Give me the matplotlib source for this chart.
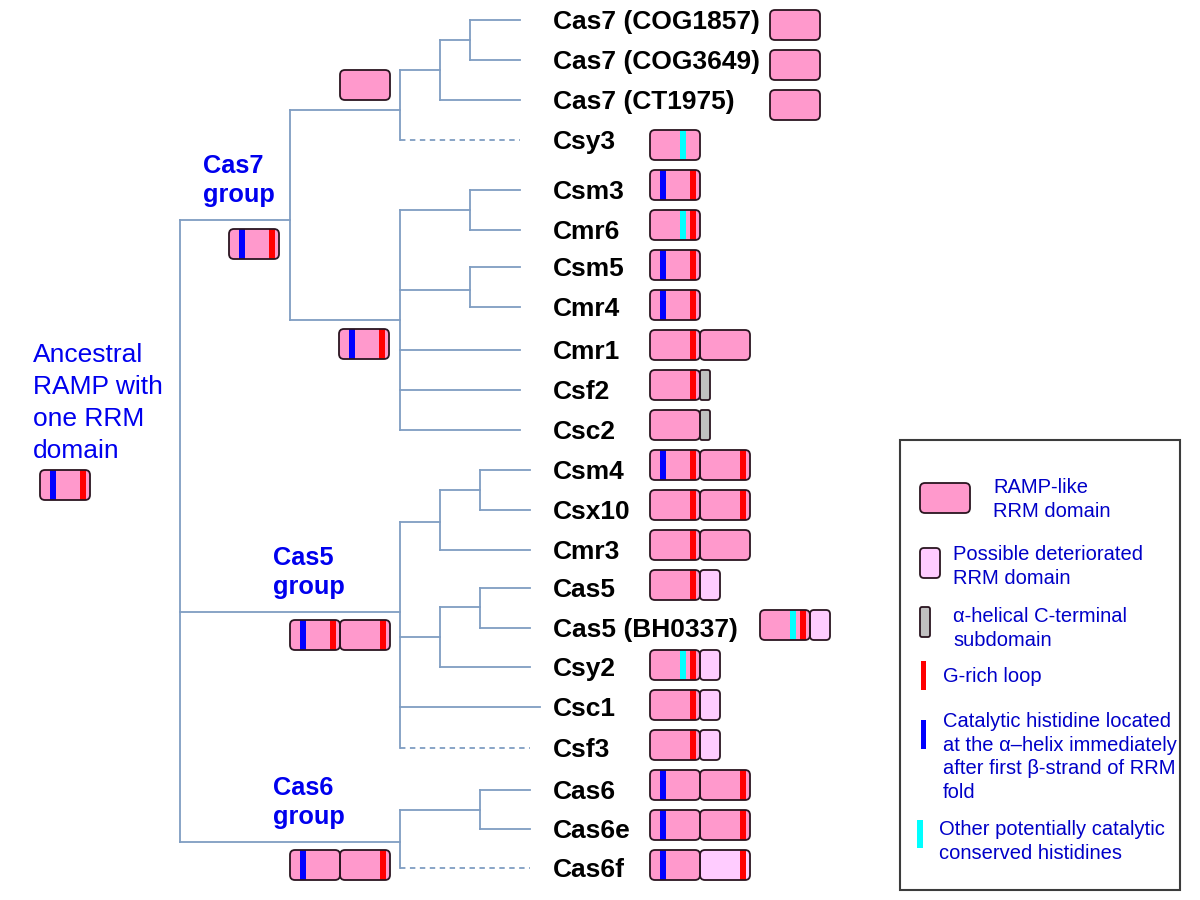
import matplotlib
matplotlib.use("Agg")
import matplotlib.pyplot as plt
from matplotlib.patches import FancyBboxPatch, Rectangle

plt.rcParams['font.family'] = ['Liberation Sans', 'DejaVu Sans']

# leaves of the tree, top to bottom
leaf_names = ['Cas7 (COG1857)', 'Cas7 (COG3649)', 'Cas7 (CT1975)', 'Csy3',
              'Csm3', 'Cmr6', 'Csm5', 'Cmr4', 'Cmr1', 'Csf2', 'Csc2',
              'Csm4', 'Csx10', 'Cmr3', 'Cas5', 'Cas5 (BH0337)', 'Csy2',
              'Csc1', 'Csf3', 'Cas6', 'Cas6e', 'Cas6f']
# domain code: R = RRM, d = deteriorated (short), D = deteriorated (full), H = helical
# letters after ':' are marks: b = catalytic His, c = other His, r = G-rich loop
leaf_domains = [['R'], ['R'], ['R'], ['R:c'],
                ['R:br'], ['R:cr'], ['R:br'], ['R:br'], ['R:r', 'R'], ['R:r', 'H'], ['R', 'H'],
                ['R:br', 'R:r'], ['R:r', 'R:r'], ['R:r', 'R'], ['R:r', 'd'], ['R:cr', 'd'], ['R:cr', 'd'],
                ['R:r', 'd'], ['R:r', 'd'], ['R:b', 'R:r'], ['R:b', 'R:r'], ['R:b', 'D:r']]
dashed_leaves = ['Csy3', 'Csf3', 'Cas6f']

group_names = [['Cas7', 'group'], ['Cas5', 'group'], ['Cas6', 'group']]
group_domains = [['R:br'], ['R:br', 'R:r'], ['R:b', 'R:r']]
inner_domains = [['R'], ['R:br']]
ancestor_text = ['Ancestral', 'RAMP with', 'one RRM', 'domain']
ancestor_domains = ['R:br']

legend_texts = [['RAMP-like', 'RRM domain'],
                ['Possible deteriorated', 'RRM domain'],
                ['\u03b1-helical C-terminal', 'subdomain'],
                ['G-rich loop'],
                ['Catalytic histidine located', 'at the \u03b1\u2013helix immediately',
                 'after first \u03b2-strand of RRM', 'fold'],
                ['Other potentially catalytic', 'conserved histidines']]

# layout (pixels)
leaf_y = [20, 60, 100, 140, 190, 230, 267, 307, 350, 390, 430,
          470, 510, 550, 588, 628, 667, 707, 748, 790, 829, 868]
leaf_tip = [520] * 11 + [530] * 6 + [540, 530, 530, 530, 530]
box_x = [770, 770, 770] + [650] * 12 + [760] + [650] * 6

PINK = '#ff99cc'
LIGHT = '#ffccff'
GREY = '#c0c0c0'
MARK = {'b': ('#0000ff', 10), 'c': ('#00ffff', 30), 'r': ('#ff0000', 40)}
WIDTH = {'R': 50, 'D': 50, 'd': 20, 'H': 10}
ROUND = {'R': 5, 'D': 5, 'd': 4, 'H': 2}
FILL = {'R': PINK, 'D': LIGHT, 'd': LIGHT, 'H': GREY}
EDGE = '#2a1520'
TREE = '#7f9dc2'
BLUE_TXT = '#0000ee'
NAVY_TXT = '#0000c8'

fig = plt.figure(figsize=(12, 9), dpi=100)
ax = fig.add_axes([0, 0, 1, 1])
ax.set_xlim(0, 1200)
ax.set_ylim(900, 0)
ax.axis('off')


def draw_domains(x, y, codes, h=30):
    for code in codes:
        kind, _, marks = code.partition(':')
        w = WIDTH[kind]
        style = 'round,pad=0,rounding_size=%g' % ROUND[kind]
        body = FancyBboxPatch((x, y), w, h, boxstyle=style,
                              facecolor=FILL[kind], edgecolor='none', zorder=3)
        ax.add_patch(body)
        for m in marks:
            col, off = MARK[m]
            s = Rectangle((x + off, y - 1), 6, h + 2, facecolor=col, edgecolor='none', zorder=4)
            s.set_clip_path(body)
            ax.add_patch(s)
        ax.add_patch(FancyBboxPatch((x, y), w, h, boxstyle=style,
                                    facecolor='none', edgecolor=EDGE, lw=1.3, zorder=5))
        x += w


# tree nodes: (x, attach y, children)
n_cog = (470, 40, [0, 1])
n_cas7a = (440, 70, [n_cog, 2])
n_cas7up = (400, 110, [n_cas7a, 3])
n_csm3 = (470, 210, [4, 5])
n_csm5 = (470, 290, [6, 7])
n_cas7low = (400, 320, [n_csm3, n_csm5, 8, 9, 10])
n_cas7 = (290, 220, [n_cas7up, n_cas7low])
n_csm4 = (480, 490, [11, 12])
n_cas5a = (440, 522, [n_csm4, 13])
n_cas5b = (480, 607, [14, 15])
n_cas5c = (440, 637, [n_cas5b, 16])
n_cas5 = (400, 612, [n_cas5a, n_cas5c, 17, 18])
n_cas6a = (480, 810, [19, 20])
n_cas6 = (400, 842, [n_cas6a, 21])
root = (180, None, [n_cas7, n_cas5, n_cas6])


def draw_node(node):
    x, _, kids = node
    ys = []
    for k in kids:
        if isinstance(k, int):
            ky = leaf_y[k]
            ls = (0, (3, 2.5)) if leaf_names[k] in dashed_leaves else '-'
            ax.plot([x, leaf_tip[k]], [ky, ky], color=TREE, lw=1.3, ls=ls, zorder=1)
        else:
            ky = k[1]
            ax.plot([x, k[0]], [ky, ky], color=TREE, lw=1.3, zorder=1)
            draw_node(k)
        ys.append(ky)
    ax.plot([x, x], [min(ys), max(ys)], color=TREE, lw=1.3, zorder=1)


draw_node(root)

# leaf labels and domain architectures
for i, name in enumerate(leaf_names):
    ax.text(553, leaf_y[i] + 9, name, fontsize=19, fontweight='bold', color='black',
            ha='left', va='baseline')
    draw_domains(box_x[i], 10 + 40 * i, leaf_domains[i])

# group labels
group_pos = [(203, 173), (273, 565), (273, 795)]
for (gx, gy), lines in zip(group_pos, group_names):
    for j, ln in enumerate(lines):
        ax.text(gx, gy + 29 * j, ln, fontsize=18.3, fontweight='bold', color=BLUE_TXT,
                ha='left', va='baseline')

group_box = [(229, 229), (290, 620), (290, 850)]
for (bx, by), codes in zip(group_box, group_domains):
    draw_domains(bx, by, codes)
for (bx, by), codes in zip([(340, 70), (339, 329)], inner_domains):
    draw_domains(bx, by, codes)

# ancestral RAMP
for j, ln in enumerate(ancestor_text):
    ax.text(33, 362 + 32 * j, ln, fontsize=19, color=BLUE_TXT, ha='left', va='baseline')
draw_domains(40, 470, ancestor_domains)

# legend
ax.add_patch(Rectangle((900, 440), 280, 450, facecolor='white', edgecolor='#3c3c3c',
                       lw=1.5, zorder=2))
draw_domains(920, 483, ['R'])
draw_domains(920, 548, ['d'])
draw_domains(920, 607, ['H'])
ax.add_patch(Rectangle((921, 661), 5, 29, facecolor='#ff0000', edgecolor='none', zorder=3))
ax.add_patch(Rectangle((921, 720), 5, 29, facecolor='#0000ff', edgecolor='none', zorder=3))
ax.add_patch(Rectangle((917, 820), 6, 28, facecolor='#00ffff', edgecolor='none', zorder=3))

legend_pos = [(993, 493), (953, 560), (953, 622), (943, 682), (943, 727), (939, 835)]
for (tx, ty), lines in zip(legend_pos, legend_texts):
    for j, ln in enumerate(lines):
        ax.text(tx, ty + 23.7 * j, ln, fontsize=14.5, color=NAVY_TXT, ha='left',
                va='baseline', zorder=4)

fig.savefig('out.png', dpi=100)
